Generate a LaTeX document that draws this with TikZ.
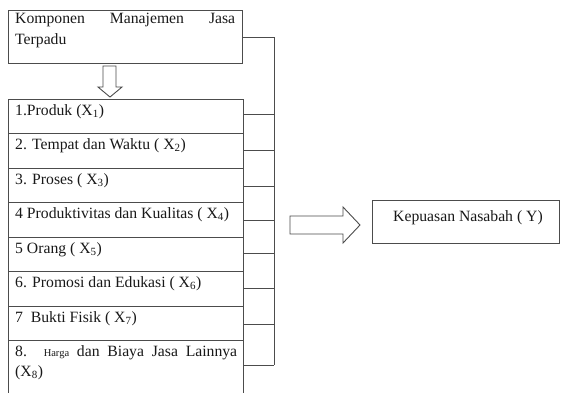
\documentclass[tikz,border=0pt]{standalone}
\usepackage{fontspec}
\setmainfont{Liberation Serif}
\begin{document}
\begin{tikzpicture}[x=1pt,y=-1pt,
  ln/.style={draw=black!70,line width=1pt},
  txt/.style={anchor=north west,inner sep=0pt,font=\fontsize{15.7}{20.5}\selectfont,text=black!90},
  hollow/.style={draw=black!70,line width=0.9pt,fill=white}]
\clip (0,0) rectangle (561,392);
\fill[white] (0,0) rectangle (561,392);
% top box
\node[ln,draw,minimum width=234pt,minimum height=53pt,anchor=north west,inner sep=0pt] (top) at (8,10) {};
\node[txt,text width=220pt,align=justify] (toptxt) at (15,13) {Komponen Manajemen Jasa\linebreak Terpadu};
% down arrow
\draw[hollow] (103,66) -- (116,66) -- (116,87) -- (122,87) -- (110,97) -- (98,87) -- (103,87) -- cycle;
% rows
\foreach \i/\a/\b in {1/99/133,2/133/168,3/168/202,4/202/237,5/237/271,6/271/306,7/306/340,8/340/400}{
  \node[ln,draw,minimum width=235pt,minimum height={\b-\a},anchor=north west,inner sep=0pt] (r\i) at (8,\a) {};
}
\node[txt] (t1) at (15,104) {1.Produk (X\textsubscript{1})};
\node[txt] (t2) at (15,138) {2. Tempat dan Waktu ( X\textsubscript{2})};
\node[txt] (t3) at (15,173) {3. Proses ( X\textsubscript{3})};
\node[txt] (t4) at (15,207) {4 Produktivitas dan Kualitas ( X\textsubscript{4})};
\node[txt] (t5) at (15,242) {5 Orang ( X\textsubscript{5})};
\node[txt] (t6) at (15,276) {6. Promosi dan Edukasi ( X\textsubscript{6})};
\node[txt] (t7) at (15,311) {7\ \ Bukti Fisik ( X\textsubscript{7})};
\node[txt,text width=222pt,align=justify] (t8) at (15,345) {8. {\fontsize{10.5}{10}\selectfont Harga} dan Biaya Jasa Lainnya\linebreak (X\textsubscript{8})};
% bracket connectors
\coordinate (vtop) at (274,37);
\coordinate (vbot) at (274,365);
\draw[ln] (242,37) -- (vtop) -- (vbot);
\foreach \y in {114,150,186,220,253,288,324,365}{
  \draw[ln] (243,\y) -- (274,\y);
}
% right arrow
\draw[hollow] (290,216) -- (343,216) -- (343,207) -- (360,225) -- (343,243) -- (343,234) -- (290,234) -- cycle;
% result box
\node[ln,draw,minimum width=187pt,minimum height=43pt,anchor=north west,inner sep=0pt] (y) at (372,200) {};
\node[txt] (ytxt) at (393,210) {Kepuasan Nasabah ( Y)};
\end{tikzpicture}
\end{document}
